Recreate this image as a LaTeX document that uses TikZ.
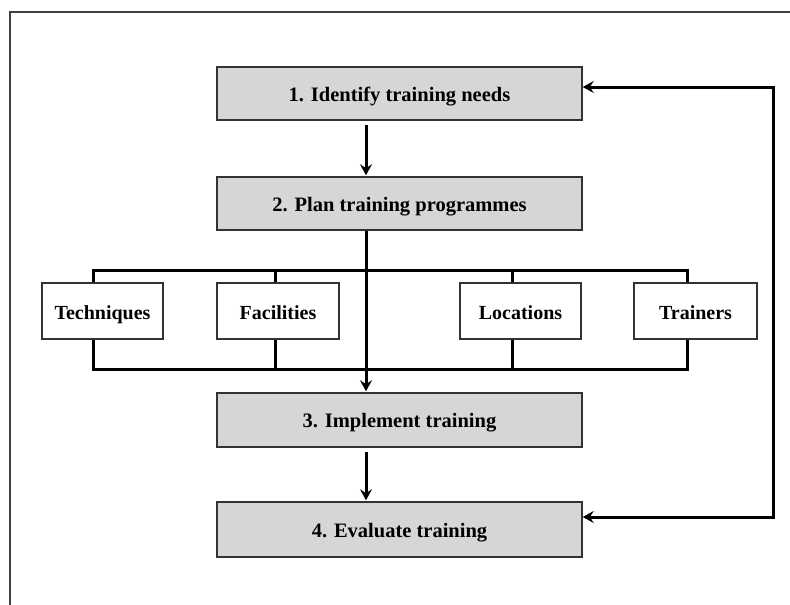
\documentclass[tikz,border=0pt]{standalone}
\usepackage{fontspec}
\setmainfont{Liberation Serif}
\usetikzlibrary{arrows.meta}
\begin{document}
\begin{tikzpicture}[x=1pt,y=-1pt,
  mainbox/.style={draw=black!80, line width=1.5pt, fill=black!16, inner sep=0pt,
    minimum width=365pt, minimum height=53pt, text height=16pt, text depth=1pt,
    font=\bfseries\fontsize{20.5}{20.5}\selectfont},
  subbox/.style={draw=black!80, line width=1.5pt, fill=white, inner sep=0pt,
    minimum height=56pt, text height=16.5pt, text depth=0.5pt,
    font=\bfseries\fontsize{20}{20}\selectfont},
  conn/.style={line width=3pt, line join=miter},
  tip/.tip={Stealth[length=11pt,width=12pt,inset=4pt]},
  arr/.style={conn, -tip},
  darr/.style={conn, tip-tip}]
\useasboundingbox (0,0) rectangle (790,605);
\fill[white] (0,0) rectangle (790,605);
% frame
\coordinate (frA) at (10,605);
\coordinate (frB) at (10,12);
\coordinate (frC) at (790,12);
\draw[line width=1.5pt, draw=black!75] (frA) -- (frB) -- (frC);
% main boxes
\node[mainbox] (b1) at (399.5,93.5) {1. Identify training needs};
\node[mainbox] (b2) at (399.5,203.5) {2. Plan training programmes};
\node[mainbox, minimum height=54pt] (b3) at (399.5,420) {3. Implement training};
\node[mainbox, minimum height=55pt] (b4) at (399.5,529.5) {4. Evaluate training};
% sub boxes
\node[subbox, minimum width=121pt] (tech) at (102.5,311) {Techniques};
\node[subbox, minimum width=122pt] (fac) at (278,311) {Facilities};
\node[subbox, minimum width=121pt] (loc) at (520.5,311) {Locations};
\node[subbox, minimum width=123pt] (trn) at (695.5,311) {Trainers};
% bus coordinates
\coordinate (xT) at (93,0);
\coordinate (xF) at (275,0);
\coordinate (xL) at (512,0);
\coordinate (xR) at (687,0);
\coordinate (xC) at (366,0);
\coordinate (busT) at (0,270);
\coordinate (busB) at (0,369);
% top bus
\draw[conn] (tech.north -| xT) -- (xT |- busT) -- (xR |- busT) -- (trn.north -| xR);
\draw[conn] (fac.north -| xF) -- (xF |- busT);
\draw[conn] (loc.north -| xL) -- (xL |- busT);
% bottom bus
\draw[conn] (tech.south -| xT) -- (xT |- busB) -- (xR |- busB) -- (trn.south -| xR);
\draw[conn] (fac.south -| xF) -- (xF |- busB);
\draw[conn] (loc.south -| xL) -- (xL |- busB);
% main arrows
\draw[arr, shorten <=4pt, shorten >=1pt] (b1.south -| xC) -- (b2.north -| xC);
\draw[arr, shorten >=1pt] (b2.south -| xC) -- (b3.north -| xC);
\draw[arr, shorten <=4pt, shorten >=1pt] (b3.south -| xC) -- (b4.north -| xC);
% feedback loop
\coordinate (fbX) at (773,0);
\coordinate (fy1) at (0,87);
\coordinate (fy4) at (0,517);
\draw[darr] (b4.east |- fy4) -| (fbX |- fy1) -- (b1.east |- fy1);
\end{tikzpicture}
\end{document}
